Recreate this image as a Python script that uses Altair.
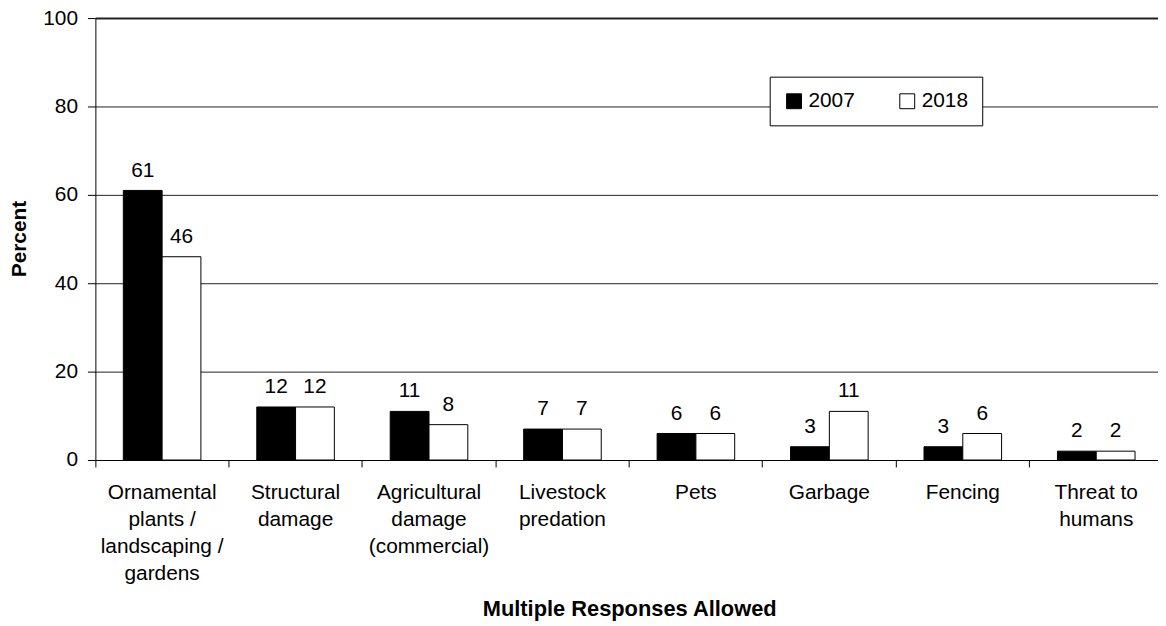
import altair as alt
import pandas as pd

categories = [
    "Ornamental\nplants /\nlandscaping /\ngardens",
    "Structural\ndamage",
    "Agricultural\ndamage\n(commercial)",
    "Livestock\npredation",
    "Pets",
    "Garbage",
    "Fencing",
    "Threat to\nhumans",
]
years = ["2007", "2018"]
values_2007 = [61, 12, 11, 7, 6, 3, 3, 2]
values_2018 = [46, 12, 8, 7, 6, 11, 6, 2]
y_ticks = [0, 20, 40, 60, 80, 100]
bar_fills = ["black", "white"]

rows = []
for i, c in enumerate(categories):
    rows.append({"category": c, "year": years[0], "value": values_2007[i]})
    rows.append({"category": c, "year": years[1], "value": values_2018[i]})
df = pd.DataFrame(rows)

FONT = "Liberation Sans"

x_enc = alt.X(
    "category:N",
    sort=categories,
    scale=alt.Scale(range=[0, 1075], paddingInner=0, paddingOuter=0),
    axis=alt.Axis(
        title="Multiple Responses Allowed",
        labelExpr="split(datum.value, '\\n')",
        labelAngle=0,
        bandPosition=0,
        tickSize=7,
        labelPadding=15,
        labelFontSize=21,
        labelLineHeight=27,
        labelFont=FONT,
        labelColor="black",
        labelBaseline="top",
        labelLimit=0,
        domainColor="black",
        domainWidth=1,
        tickColor="black",
        grid=False,
        titleFont=FONT,
        titleFontSize=22,
        titleFontWeight="bold",
        titleColor="black",
        titleX=537.5,
        titleY=157,
        titleBaseline="alphabetic",
        titleAlign="center",
    ),
)

y_enc = alt.Y(
    "value:Q",
    scale=alt.Scale(domain=[0, 100], nice=False),
    axis=alt.Axis(
        values=y_ticks,
        title="Percent",
        tickSize=8,
        labelPadding=10,
        labelFontSize=21,
        labelFont=FONT,
        labelColor="black",
        domainColor="black",
        domainWidth=1,
        tickColor="black",
        grid=True,
        gridColor="#222222",
        gridWidth={"condition": {"test": "datum.value === 100", "value": 2}, "value": 1},
        titleFont=FONT,
        titleFontSize=21,
        titleFontWeight="bold",
        titleColor="black",
        titleAngle=270,
        titleX=-70,
        titleY=222,
        titleBaseline="alphabetic",
        titleAlign="center",
    ),
)

xoff = alt.XOffset(
    "year:N", sort=years, scale=alt.Scale(paddingOuter=0.72, paddingInner=0)
)

bars = alt.Chart(df).mark_bar(stroke="black", strokeWidth=1).encode(
    x=x_enc,
    xOffset=xoff,
    y=y_enc,
    fill=alt.Fill(
        "year:N",
        sort=years,
        scale=alt.Scale(domain=years, range=bar_fills),
        legend=alt.Legend(
            orient="none",
            legendX=679,
            legendY=59,
            direction="horizontal",
            title=None,
            symbolType="square",
            symbolSize=225,
            symbolStrokeColor="black",
            symbolStrokeWidth=1,
            symbolOpacity=1,
            labelFont=FONT,
            labelFontSize=21,
            labelColor="black",
            labelOffset=4,
            columnPadding=42,
            padding=14,
            strokeColor="black",
            fillColor="white",
        ),
    ),
)

labels = alt.Chart(df).mark_text(
    baseline="alphabetic", dy=-14, fontSize=21, font=FONT, color="black"
).encode(
    x=alt.X("category:N", sort=categories),
    xOffset=alt.XOffset("year:N", sort=years),
    y=alt.Y("value:Q"),
    text=alt.Text("value:Q"),
)

chart = (
    alt.layer(bars, labels)
    .properties(
        width=1070,
        height=445,
        autosize=alt.AutoSizeParams(type="none"),
        padding={"left": 88, "top": 8, "right": 0, "bottom": 165},
        background="white",
    )
    .configure_view(stroke=None)
)

chart.save("out.html", embed_options={"renderer": "svg", "actions": False})
